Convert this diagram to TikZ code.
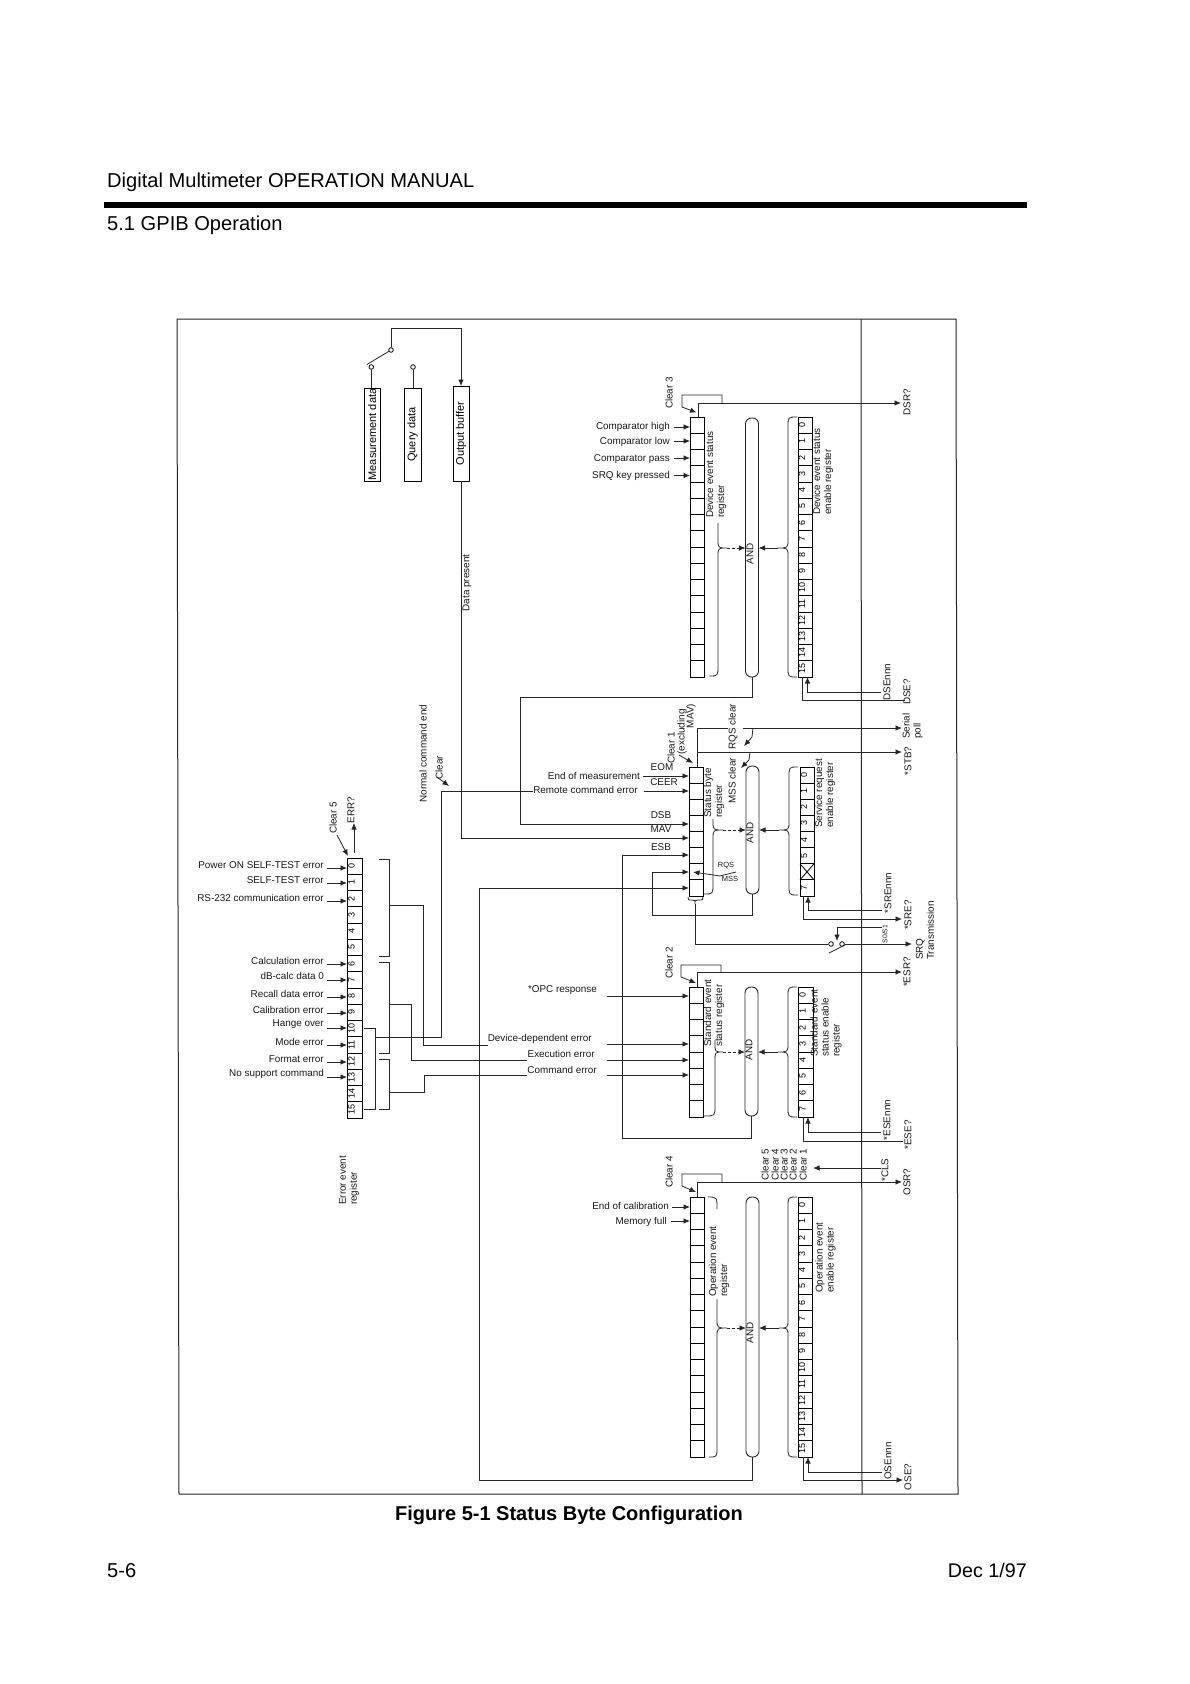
\documentclass[tikz,border=0pt]{standalone}
\usepackage{graphicx}
\usepackage{fontspec}
\setmainfont{Liberation Sans}
\usetikzlibrary{arrows.meta,calc}
\tikzset{
  wire/.style={line width=0.8pt,black!85},
  arr/.style={wire,-{Latex[length=6.5pt,width=5.5pt]}},
  darr/.style={wire,densely dashed,-{Latex[length=6.5pt,width=5.5pt]}},
  cell/.style={draw,black,line width=0.9pt,rectangle,inner sep=0pt,outer sep=0pt},
  pill/.style={draw,black!85,line width=0.9pt,rectangle,rounded corners=6pt,inner sep=0pt,outer sep=0pt,minimum width=13pt},
  buffer/.style={draw,black,line width=0.9pt,rectangle,inner sep=0pt,outer sep=0pt,font=\fontsize{11}{12}\selectfont},
  term/.style={draw,black,line width=0.8pt,fill=white,circle,inner sep=0pt,minimum size=4.6pt},
  lab/.style={inner sep=0pt,font=\fontsize{9.9}{11}\selectfont,text=black!90},
  rlab/.style={lab,anchor=east},
  vlab/.style={lab,rotate=90},
  vblock/.style={lab,rotate=90,anchor=west,align=left},
  bitlab/.style={inner sep=0pt,font=\fontsize{9}{9}\selectfont},
  head/.style={inner sep=0pt,anchor=base west,font=\fontsize{20.1}{24}\selectfont},
  brace/.style={line width=0.8pt,black!85,line join=round}
}
% register made of cells: name, x left, x right, y top, y bottom, number of cells
\newcommand{\regbox}[6]{%
  \pgfmathsetmacro{\mycw}{#3-#2}%
  \pgfmathsetmacro{\mych}{(#5-#4)/#6}%
  \pgfmathsetmacro{\mycx}{(#2+#3)/2}%
  \pgfmathtruncatemacro{\mylast}{#6-1}%
  \foreach \i in {0,...,\mylast}{%
    \pgfmathsetmacro{\mycy}{#4+(\i+0.5)*\mych}%
    \node[cell,minimum width=\mycw pt,minimum height=\mych pt] (#1-\i) at (\mycx,\mycy) {};
  }%
}
% bit numbers
\newcommand{\bitnums}[2]{%
  \foreach \i in {#2}{%
    \node[bitlab] (#1-\i-t) at ([xshift=-3pt]#1-\i.center) {\rotatebox{90}{\i}};
  }%
}
% brace with both arms ending in hooks: end x, mid x, tip x, y top, y tip, y bottom
\newcommand{\fullbrace}[6]{%
  \draw[brace] (#1,#4) .. controls (#2,#4) .. (#2,#4+10) -- (#2,#5-9)
    .. controls (#2,#5) .. (#3,#5) .. controls (#2,#5) .. (#2,#5+9)
    -- (#2,#6-10) .. controls (#2,#6) .. (#1,#6);
}
% brace whose upper arm stops at a given y: end x, mid x, tip x, y stop, y tip, y bottom
\newcommand{\partbrace}[6]{%
  \draw[brace] (#2,#4) -- (#2,#5-9)
    .. controls (#2,#5) .. (#3,#5) .. controls (#2,#5) .. (#2,#5+9)
    -- (#2,#6-10) .. controls (#2,#6) .. (#1,#6);
}
\begin{document}
\begin{tikzpicture}[x=1pt,y=-1pt]
\useasboundingbox (0,0) rectangle (1190,1684);
\fill[white] (0,0) rectangle (1190,1684);

% page furniture
\node[head] (title) at (107,187) {Digital Multimeter OPERATION MANUAL};
\fill[black] (104,202) rectangle (1027,208);
\node[head] (section) at (107,230) {5.1 GPIB Operation};
\node[inner sep=0pt,font=\fontsize{20}{24}\bfseries\selectfont] (caption) at (569,1515) {Figure 5-1 Status Byte Configuration};
\node[head] (pageno) at (107,1577) {5-6};
\node[inner sep=0pt,anchor=base east,font=\fontsize{19.7}{24}\selectfont] (date) at (1027,1577) {Dec 1/97};

% frame
\draw[line width=1pt,black!85] (177,319) -- (956,319) -- (958,1494) -- (179,1494) -- cycle;
\draw[line width=1pt,black!85] (861,319) -- (862,1494);

% ---------- data sources
\node[buffer,minimum width=16pt,minimum height=93pt] (meas) at (372.3,434.5) {\rotatebox{90}{Measurement data}};
\node[buffer,minimum width=17pt,minimum height=93pt] (query) at (412.5,434.5) {\rotatebox{90}{Query data}};
\node[buffer,minimum width=16pt,minimum height=95pt] (outbuf) at (461,433.5) {\rotatebox{90}{Output buffer}};
\node[term] (tm) at (371.3,367) {};
\node[term] (tq) at (413,367) {};
\node[term] (ts) at (391,350) {};
\coordinate (blade) at (367,364.5);
\coordinate (tsup) at (391,328);
\draw[wire] (meas.north -| tm) -- (tm);
\draw[wire] (query.north -| tq) -- (tq);
\draw[wire] (blade) -- (ts);
\draw[arr] (ts) -- (tsup) -| (outbuf.north);
\node[vlab] (datapres) at (467,583) {Data present};

% ---------- device event
\regbox{dev}{690}{704}{417}{677}{16}
\node[pill,minimum height=259pt] (andd) at (752,547.5) {};
\node[vlab] (anddt) at (750,554) {AND};
\regbox{den}{798}{812}{417}{677}{16}
\bitnums{den}{0,...,15}
\node[vblock] (devt) at (716,518) {Device event status\\register};
\node[vblock] (dent) at (823,515) {Device event status\\enable register};
\partbrace{709}{718}{727}{523}{548}{676}
\fullbrace{797}{788}{778}{417}{548}{677}
\coordinate (devtip) at (727,548);
\coordinate (dentip) at (778,548);
\draw[darr] (devtip) -- (devtip -| andd.west);
\draw[arr] (dentip) -- (dentip -| andd.east);
\node[vlab] (clr3) at (669,393) {Clear 3};
\coordinate (l3a) at (722,403); \coordinate (l3b) at (722,395); \coordinate (l3c) at (682,395); \coordinate (l3d) at (682,407); \coordinate (l3e) at (696.5,412.5);
\draw[arr] (l3a) -- (l3b) -- (l3c) -- (l3d) -- (l3e);
\node[vlab] (dsr) at (907,402) {DSR?};
\coordinate (dsrt) at (901,403);
\draw[arr] (dev-0.north -| 698,417) |- (dsrt);
\foreach \t/\ty/\ay/\n in {Comparator high/427/427/a,Comparator low/442/441/b,Comparator pass/459/458/c,SRQ key pressed/476/475.5/d}{
  \node[rlab] (dl\n) at (670,\ty) {\t};
  \coordinate (dc\n) at (674,\ay);
  \draw[arr] (dc\n) -- (dc\n -| dev-0.west);
}
\coordinate (dsennn) at (881,692);
\node[vlab] (dsenl) at (887,682) {DSEnnn};
\draw[arr] (dsennn) -| (den-15.south -| 807.5,677);
\coordinate (dseq) at (905,700);
\draw[wire] (den-15.south -| 802,677) |- (dseq);
\node[vlab] (dseql) at (907,692) {DSE?};

% ---------- status byte
\regbox{stb}{689}{703}{767}{896}{8}
\node[pill,minimum height=128pt] (andb) at (752.5,830) {};
\node[vlab] (andbt) at (750,833) {AND};
\regbox{sre}{800}{814}{767}{896}{8}
\bitnums{sre}{0,1,2,3,4,5,7}
\draw[line width=0.8pt] (sre-6.north west) -- (sre-6.south east) (sre-6.north east) -- (sre-6.south west);
\node[vblock] (stbt) at (714,818) {Status byte\\register};
\node[vblock] (sret) at (825,828) {Service request\\enable register};
\partbrace{704}{713}{723}{819}{830}{894}
\fullbrace{798}{789}{779}{767}{830}{895}
\coordinate (stbtip) at (723,830);
\coordinate (sretip) at (779,830);
\draw[darr] (stbtip) -- (stbtip -| andb.west);
\draw[arr] (sretip) -- (sretip -| andb.east);

\node[vlab] (clr1) at (671,748) {Clear 1};
\node[vlab] (clr1b) at (682,732) {(excluding};
\node[vlab] (clr1c) at (691,716) {MAV)};
\coordinate (c1a) at (679,755); \coordinate (c1b) at (693,763);
\draw[arr] (c1a) -- (c1b);

\node[rlab] (eom0) at (640,776) {End of measurement};
\node[rlab] (rce) at (638,790) {Remote command error};
\coordinate (a1) at (643,776); \coordinate (a2) at (644,791);
\draw[arr] (a1) -- (a1 -| stb-0.west);
\draw[arr] (a2) -- (a2 -| stb-0.west);
\node[lab] (eom) at (662,767) {EOM};
\node[lab] (ceer) at (664,782) {CEER};
\node[lab] (dsb) at (661,815) {DSB};
\node[lab] (mav) at (661,829) {MAV};
\node[lab] (esb) at (661,847) {ESB};

% status outputs
\coordinate (sp1) at (902,728);
\coordinate (sp0) at (697,728);
\coordinate (stbq) at (902,752);
\coordinate (gapa) at (728,728);
\coordinate (gapb) at (743,728);
\draw[wire] (stb-0.north -| sp0) -- (sp0) -- (gapa);
\draw[arr] (gapb) -- (sp1);
\draw[arr] (stb-0.north -| sp0) |- (stbq);
\node[vlab] (rqsc) at (733,727) {RQS clear};
\node[vlab] (mssc) at (732,781) {MSS clear};
\coordinate (r1) at (753,728); \coordinate (r2) at (752,737); \coordinate (r3) at (744,746);
\draw[arr] (r1) -- (r2) -- (r3);
\coordinate (m1) at (750,752); \coordinate (m2) at (749,760); \coordinate (m3) at (741,768);
\draw[arr] (m1) -- (m2) -- (m3);
\node[vblock] (serial) at (912.5,739) {Serial\\poll};
\node[vlab] (stbl) at (908,761) {*STB?};

% RQS / MSS selector
\coordinate (rq1) at (736,872); \coordinate (rq2) at (720,876); \coordinate (rq3) at (693,872);
\draw[arr] (rq2) -- (rq3);
\draw[wire] (rq1) -- (rq2);
\node[lab,font=\fontsize{7.5}{9}\selectfont] (rqsl) at (726,866) {RQS};
\node[lab,font=\fontsize{7.5}{9}\selectfont] (mssl) at (730,879) {MSS};

% SRE controls
\coordinate (srennn) at (882,910);
\node[vlab] (srenl) at (888,893) {*SREnnn};
\draw[arr] (srennn) -| (sre-7.south -| 808,896);
\coordinate (sreq) at (902,919);
\draw[arr] (sre-7.south -| 803,896) |- (sreq);
\node[vlab] (sreql) at (908,915) {*SRE?};

% SRQ transmission switch
\draw[brace] (688,897) .. controls (688,900) .. (692,900) .. controls (695,900) .. (695,904) .. controls (695,900) .. (698,900) .. controls (703,900) .. (703,897);
\node[term] (sw1) at (831,944) {};
\node[term] (sw2) at (842,944) {};
\coordinate (sbr) at (695,904);
\coordinate (sbrb) at (695,944);
\draw[wire] (sbr) -- (sbrb) -- (sw1);
\coordinate (srqt) at (912,944);
\draw[arr] (sw2) -- (srqt);
\coordinate (swb1) at (829,953); \coordinate (swb2) at (845,945);
\draw[wire] (swb1) -- (swb2);
\coordinate (s0a) at (882,927); \coordinate (s0b) at (837,927); \coordinate (s0c) at (837,941);
\draw[arr] (s0a) -- (s0b) -- (s0c);
\node[lab,rotate=90,font=\fontsize{6.8}{8}\selectfont] (s0s1) at (885,934) {S0/S1};
\node[vblock] (srqtl) at (925,960) {SRQ\\Transmission};

% ---------- standard event
\regbox{ses}{689}{703}{987}{1117}{8}
\node[pill,minimum height=129pt] (ands) at (751.5,1051.5) {};
\node[vlab] (andst) at (749,1050) {AND};
\regbox{sen}{798}{813}{987}{1117}{8}
\bitnums{sen}{0,...,7}
\node[vblock] (sest) at (714,1047) {Standard event\\status register};
\node[vblock] (sent) at (826,1057) {Standard event\\status enable\\register};
\partbrace{704}{715}{723}{1040}{1052}{1116}
\fullbrace{797}{788}{778}{987}{1052}{1117}
\coordinate (sestip) at (723,1052);
\coordinate (sentip) at (778,1052);
\draw[darr] (sestip) -- (sestip -| ands.west);
\draw[arr] (sentip) -- (sentip -| ands.east);
\node[vlab] (clr2) at (669,963) {Clear 2};
\coordinate (l2a) at (721,972); \coordinate (l2b) at (721,965); \coordinate (l2c) at (681,965); \coordinate (l2d) at (681,977); \coordinate (l2e) at (696,983);
\draw[arr] (l2a) -- (l2b) -- (l2c) -- (l2d) -- (l2e);
\coordinate (esrt) at (902,972);
\draw[arr] (ses-0.north -| 697,987) |- (esrt);
\node[vlab] (esrl) at (907,972) {*ESR?};
\node[rlab] (opc) at (597,990) {*OPC response};
\node[rlab] (dde) at (592,1039) {Device-dependent error};
\node[rlab] (exe) at (595,1054) {Execution error};
\node[rlab] (cmd) at (597,1070) {Command error};
\foreach \n/\ay in {o/996,p/1044,q/1060,r/1075}{
  \coordinate (sc\n) at (607,\ay);
  \draw[arr] (sc\n) -- (sc\n -| ses-0.west);
}
\coordinate (esennn) at (881,1132);
\node[vlab] (esenl) at (887,1120) {*ESEnnn};
\draw[arr] (esennn) -| (sen-7.south -| 808,1117);
\coordinate (eseq) at (903,1141);
\draw[wire] (sen-7.south -| 803,1117) |- (eseq);
\node[vlab] (eseql) at (908,1135) {*ESE?};

% ---------- clear block
\foreach \t/\tx in {5/765,4/775,3/784,2/793,1/803}{
  \node[lab,rotate=90,anchor=west] (clx\t) at (\tx,1181) {Clear \t};
}
\coordinate (clsa) at (881,1168); \coordinate (clsb) at (813,1168);
\draw[arr] (clsa) -- (clsb);
\node[vlab] (clsl) at (885,1170) {*CLS};

% ---------- operation event
\regbox{ope}{690}{704}{1197}{1457}{16}
\node[pill,minimum height=260pt] (ando) at (752.5,1327) {};
\node[vlab] (andot) at (750,1333) {AND};
\regbox{oen}{798}{812}{1197}{1457}{16}
\bitnums{oen}{0,...,15}
\node[vblock] (opet) at (719,1297) {Operation event\\register};
\node[vblock] (oent) at (825.5,1293) {Operation event\\enable register};
\partbrace{709}{717}{727}{1299}{1328}{1457}
\draw[brace] (708,1197) .. controls (717,1197) .. (717,1209);
\fullbrace{797}{788}{779}{1197}{1328}{1457}
\coordinate (opetip) at (727,1328);
\coordinate (oentip) at (779,1328);
\draw[darr] (opetip) -- (opetip -| ando.west);
\draw[arr] (oentip) -- (oentip -| ando.east);
\node[vlab] (clr4) at (669,1172) {Clear 4};
\coordinate (l4a) at (722,1182); \coordinate (l4b) at (722,1174); \coordinate (l4c) at (682,1174); \coordinate (l4d) at (682,1186); \coordinate (l4e) at (696,1192);
\draw[arr] (l4a) -- (l4b) -- (l4c) -- (l4d) -- (l4e);
\coordinate (osrt) at (902,1182);
\draw[arr] (ope-0.north -| 697,1197) |- (osrt);
\node[vlab] (osrl) at (907,1182) {OSR?};
\node[rlab] (eoc) at (669,1206) {End of calibration};
\node[rlab] (mfl) at (667,1222) {Memory full};
\coordinate (oc1) at (672,1207); \coordinate (oc2) at (671,1221);
\draw[arr] (oc1) -- (oc1 -| ope-0.west);
\draw[arr] (oc2) -- (oc2 -| ope-0.west);
\coordinate (osennn) at (882,1472);
\node[vlab] (osenl) at (888,1461) {OSEnnn};
\draw[arr] (osennn) -| (oen-15.south -| 808,1457);
\coordinate (oseq) at (903,1480);
\draw[arr] (oen-15.south -| 803,1457) |- (oseq);
\node[vlab] (oseql) at (908,1477) {OSE?};

% ---------- error event
\regbox{err}{347}{362}{858}{1118}{16}
\bitnums{err}{0,...,15}
\node[vblock] (errt) at (349,1205) {Error event\\register};
\node[vlab] (clr5) at (333,818) {Clear 5};
\coordinate (e5a) at (337,835); \coordinate (e5b) at (348,856);
\draw[arr] (e5a) -- (e5b);
\coordinate (erra) at (354,853); \coordinate (errb) at (354,823);
\draw[arr] (erra) -- (errb);
\node[vlab] (errl) at (351,810) {ERR?};
\foreach \t/\ty/\ay/\n in {Power ON SELF-TEST error/865/868/a,SELF-TEST error/880/883/b,RS-232 communication error/898/901/c,Calculation error/961/964/d,dB-calc data 0/976/980/e,Recall data error/994/997/f,Calibration error/1010/1013/g,Hange over/1024/1028/h,Mode error/1042/1045/i,Format error/1059/1062/j,No support command/1074/1077/k}{
  \node[rlab] (el\n) at (324,\ty) {\t};
  \coordinate (ec\n) at (327,\ay);
  \draw[arr] (ec\n) -- (ec\n -| err-0.west);
}
% brackets behind the error register
\draw[wire] (379,859) -- (389,859) -- (389,956) -- (379,956);
\draw[wire] (379,962) -- (389,962) -- (389,1053) -- (379,1053);
\draw[wire] (379,1059) -- (389,1059) -- (389,1109) -- (379,1109);
\draw[wire] (364,1028) -- (375,1028) -- (375,1109) -- (364,1109);
\coordinate (br1) at (389,905); \coordinate (br1a) at (423,905); \coordinate (br1b) at (423,1045);
\coordinate (br2) at (389,1004); \coordinate (br2a) at (411,1004); \coordinate (br2b) at (411,1060);
\coordinate (br3) at (389,1092); \coordinate (br3a) at (424,1092); \coordinate (br3b) at (424,1075);
\coordinate (br4) at (375,1037); \coordinate (br4a) at (441,1037); \coordinate (br4b) at (441,791);
\draw[wire] (br1) -- (br1a) -- (br1b) -- (br1b -| dde.west);
\draw[wire] (br2) -- (br2a) -- (br2b) -- (br2b -| exe.west);
\draw[wire] (br3) -- (br3a) -- (br3b) -- (br3b -| cmd.west);
\draw[wire] (br4) -- (br4a) -- (br4b) -- (br4b -| rce.west);
\node[vlab] (nce) at (423,753.5) {Normal command end};
\node[vlab] (clrn) at (439,768) {Clear};
\coordinate (cna) at (437,777); \coordinate (cnb) at (449,786);
\draw[arr] (cna) -- (cnb);

% ---------- links into the status byte
\coordinate (dsbc) at (752,697); \coordinate (dsbd) at (520,697); \coordinate (dsbe) at (520,824);
\draw[wire] (andd.south) -- (dsbc) -- (dsbd) -- (dsbe);
\draw[arr] (dsbe) -- (dsbe -| stb-0.west);
\coordinate (mavc) at (461,838);
\draw[wire] (outbuf.south) -- (mavc);
\draw[arr] (mavc) -- (mavc -| stb-0.west);
\coordinate (esbc) at (622,1138); \coordinate (esbd) at (622,855);
\draw[wire] (ands.south) |- (esbc) -- (esbd);
\draw[arr] (esbd) -- (esbd -| stb-0.west);
\coordinate (msc) at (652,915); \coordinate (msd) at (652,872);
\draw[wire] (andb.south) |- (msc) -- (msd);
\draw[arr] (msd) -- (msd -| stb-0.west);
\coordinate (opc1) at (479,1480); \coordinate (opc2) at (479,888);
\draw[wire] (ando.south) |- (opc1) -- (opc2);
\draw[arr] (opc2) -- (opc2 -| stb-0.west);
\end{tikzpicture}
\end{document}
